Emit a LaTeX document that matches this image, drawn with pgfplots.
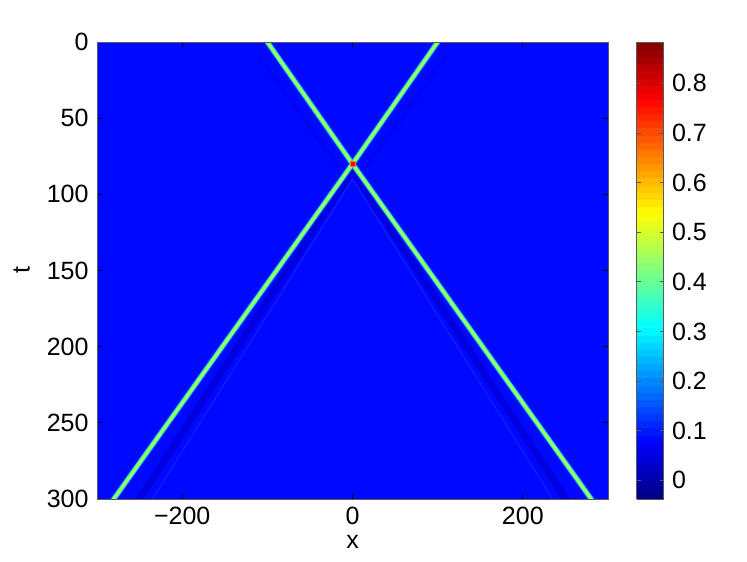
\documentclass[border=0pt]{standalone}
\usepackage{fontspec}
\setmainfont{Liberation Sans}
\usepackage{pgfplots}
\pgfplotsset{compat=1.18}

\definecolor{bgblue}{RGB}{0,8,255}
\definecolor{edgeblue}{RGB}{0,160,255}
\definecolor{midcyan}{RGB}{90,255,170}
\definecolor{core}{RGB}{160,255,90}
\definecolor{shadow}{RGB}{0,0,225}
\definecolor{pale}{RGB}{20,40,255}
\definecolor{framegray}{RGB}{90,90,90}

\begin{document}
\fontsize{25bp}{30bp}\selectfont
\begin{tikzpicture}
\useasboundingbox (0,0) rectangle (747bp,562bp);
\begin{axis}[
  at={(97bp,63bp)}, anchor=south west,
  scale only axis, width=511bp, height=457bp,
  xmin=-300, xmax=300, ymin=0, ymax=300, y dir=reverse,
  xtick={-200,0,200}, xticklabels={−200,0,200},
  ytick={0,50,100,150,200,250,300},
  xlabel={x}, ylabel={t},
  tick align=inside, major tick length=5bp,
  axis line style={framegray, line width=0.9bp},
  every tick/.style={black, line width=0.7bp},
  ticklabel style={font=\fontsize{25bp}{30bp}\selectfont},
  label style={font=\fontsize{25bp}{30bp}\selectfont},
  xlabel style={yshift=7bp},
  /pgf/number format/assume math mode=true,
  axis on top,
  colormap/jet, point meta min=-0.0375, point meta max=0.883,
  colorbar sampled,
  colorbar style={
    samples=65,
    at={(parent axis.north east)}, anchor=north west, xshift=20bp,
    width=27bp,
    axis on top,
    ytick={0,0.1,0.2,0.3,0.4,0.5,0.6,0.7,0.8},
    yticklabels={0,0.1,0.2,0.3,0.4,0.5,0.6,0.7,0.8},
    ytick pos=both, yticklabel pos=right,
    tick align=inside, major tick length=4bp,
    every tick/.style={framegray, line width=0.7bp},
    axis line style={framegray, line width=0.9bp},
    ticklabel style={font=\fontsize{25bp}{30bp}\selectfont},
    /pgf/number format/assume math mode=true,
  },
]
% background field (u ~ 0.08 everywhere away from the solitons)
\addplot[draw=none, fill=bgblue] coordinates {(-300,0) (300,0) (300,300) (-300,300)};
% trailing dispersive shadows
\addplot[no markers, line width=7bp, shadow] coordinates {(0,84) (-262,310)};
\addplot[no markers, line width=7bp, shadow] coordinates {(0,84) (262,310)};
\addplot[no markers, line width=0.8bp, pale] coordinates {(0,90) (-246,310)};
\addplot[no markers, line width=0.8bp, pale] coordinates {(0,90) (246,310)};
\addplot[no markers, line width=4bp, shadow!40!bgblue] coordinates {(-112,8) (-8,88)};
\addplot[no markers, line width=4bp, shadow!40!bgblue] coordinates {(112,8) (8,88)};
% soliton A
\addplot[no markers, line width=5.5bp, edgeblue] coordinates {(-110,-8) (0,80) (293,310)};
\addplot[no markers, line width=3.6bp, midcyan] coordinates {(-110,-8) (0,80) (293,310)};
\addplot[no markers, line width=2.6bp, core] coordinates {(-110,-8) (0,80) (293,310)};
% soliton B
\addplot[no markers, line width=5.5bp, edgeblue] coordinates {(110,-8) (0,80) (-293,310)};
\addplot[no markers, line width=3.6bp, midcyan] coordinates {(110,-8) (0,80) (-293,310)};
\addplot[no markers, line width=2.6bp, core] coordinates {(110,-8) (0,80) (-293,310)};
% collision peak
\addplot[only marks, mark=square*, mark size=2.6bp, color=orange] coordinates {(0,80)};
\addplot[only marks, mark=square*, mark size=1.5bp, color=red] coordinates {(0,80)};
\end{axis}
\end{tikzpicture}
\end{document}
